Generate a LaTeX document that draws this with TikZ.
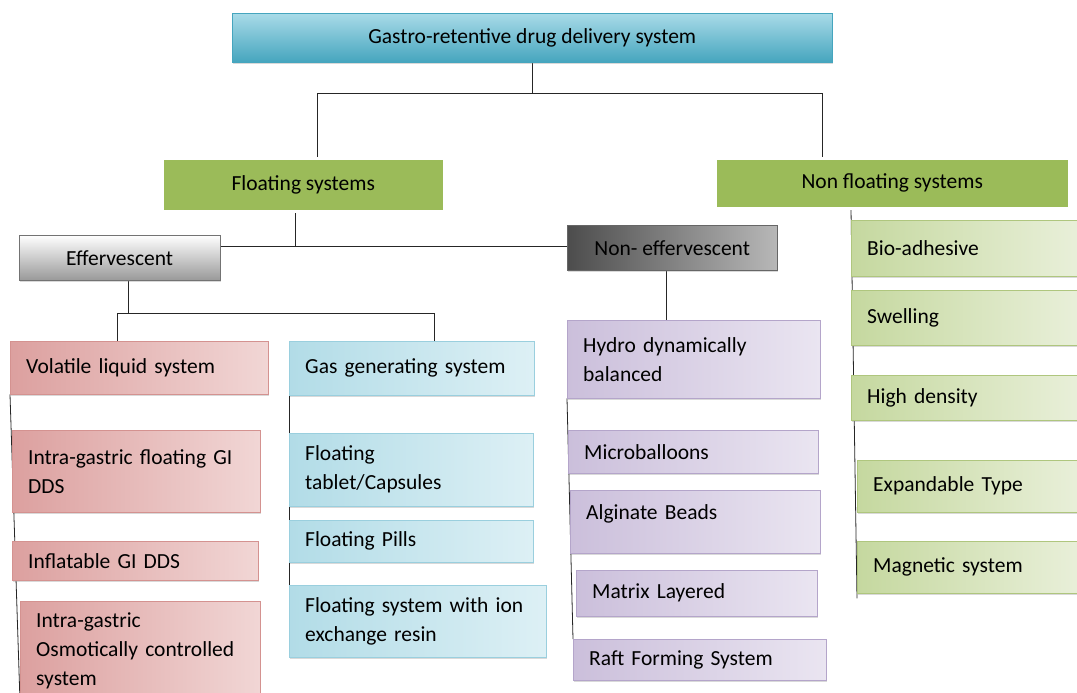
\documentclass[tikz,border=0pt]{standalone}
\usepackage{fontspec}
\setmainfont{Carlito}
\usepackage{tikz}
\usetikzlibrary{positioning, shadows, backgrounds}

\definecolor{tealL}{HTML}{A9DBE8}
\definecolor{tealD}{HTML}{45A5BE}
\definecolor{greenM}{HTML}{9BBB59}
\definecolor{pinkD}{HTML}{DCA09F}
\definecolor{pinkL}{HTML}{F1D6D5}
\definecolor{pinkB}{HTML}{D49290}
\definecolor{blueD}{HTML}{B2DCE7}
\definecolor{blueL}{HTML}{DDF0F5}
\definecolor{blueB}{HTML}{9ACFDE}
\definecolor{purpD}{HTML}{CBBFDB}
\definecolor{purpL}{HTML}{EAE5F1}
\definecolor{purpB}{HTML}{B4A5CA}
\definecolor{leafD}{HTML}{C5D89F}
\definecolor{leafL}{HTML}{EBF1DD}
\definecolor{leafB}{HTML}{AFC67E}

\tikzset{
  box/.style={anchor=north west, inner xsep=16pt, inner ysep=0pt,
    font=\fontsize{21.5}{29}\selectfont, text=black,
    drop shadow={shadow xshift=1.2pt, shadow yshift=-2pt, opacity=0.3}},
  head/.style={box, align=center},
  leaf/.style={box, align=left},
  teal_box/.style={top color=tealL, bottom color=tealD, draw=tealD, thin},
  green_box/.style={fill=greenM, draw=white, line width=2.5pt},
  eff_box/.style={top color=white, bottom color=black!40, draw=black!55, thin},
  noneff_box/.style={left color=black!70, right color=black!28, draw=black!60, thin},
  pink_box/.style={left color=pinkD, right color=pinkL, draw=pinkB, thin},
  blue_box/.style={left color=blueD, right color=blueL, draw=blueB, thin},
  purp_box/.style={left color=purpD, right color=purpL, draw=purpB, thin},
  leaf_box/.style={left color=leafD, right color=leafL, draw=leafB, thin},
  link/.style={draw=black!85, line width=0.8pt}
}

\begin{document}
\begin{tikzpicture}[x=1pt, y=-1pt]
  \useasboundingbox (0,0) rectangle (1077,693);

  %Define nodes
  \node[head, teal_box, minimum width=600pt, minimum height=49pt] (grdds) at (232,13) {Gastro-retentive drug delivery system};
  \node[head, green_box, minimum width=282pt, minimum height=53pt] (float_sys) at (161,157) {Floating systems};
  \node[head, green_box, minimum width=354pt, minimum height=50pt] (non_float) at (714,157) {Non floating systems};
  \node[head, eff_box, minimum width=201pt, minimum height=45pt] (eff) at (19,235) {Effervescent};
  \node[head, noneff_box, minimum width=210pt, minimum height=45pt] (non_eff) at (567,225) {Non- effervescent};

  % effervescent branch
  \node[leaf, pink_box, text width=226pt, minimum height=53pt] (volatile) at (10,341) {Volatile liquid system};
  \node[leaf, pink_box, text width=216pt, minimum height=82pt] (intra_gi) at (12,430) {Intra-gastric floating GI\\DDS};
  \node[leaf, pink_box, text width=214pt, minimum height=39pt] (inflatable) at (12,541) {Inflatable GI DDS};
  \node[leaf, pink_box, text width=208pt, minimum height=100pt] (osmotic) at (20,601) {Intra-gastric\\Osmotically controlled\\system};

  \node[leaf, blue_box, text width=213pt, minimum height=54pt] (gas) at (289,341) {Gas generating system};
  \node[leaf, blue_box, text width=212pt, minimum height=73pt] (tablet) at (289,433) {Floating\\tablet/Capsules};
  \node[leaf, blue_box, text width=212pt, minimum height=42pt] (pills) at (289,520) {Floating Pills};
  \node[leaf, blue_box, text width=225pt, minimum height=72pt] (ion_res) at (289,585) {Floating system with ion\\exchange resin};

  % non-effervescent branch
  \node[leaf, purp_box, text width=221pt, minimum height=78pt] (hydro) at (567,320) {Hydro dynamically\\balanced};
  \node[leaf, purp_box, text width=218pt, minimum height=43pt] (micro) at (568,430) {Microballoons};
  \node[leaf, purp_box, text width=218pt, minimum height=63pt, text depth=20pt] (alginate) at (570,490) {Alginate Beads};
  \node[leaf, purp_box, text width=209pt, minimum height=46pt] (matrix) at (576,570) {Matrix Layered};
  \node[leaf, purp_box, text width=221pt, minimum height=41pt] (raft) at (573,639) {Raft Forming System};

  % non floating branch
  \node[leaf, leaf_box, text width=210pt, minimum height=56pt] (bio) at (851,220) {Bio-adhesive};
  \node[leaf, leaf_box, text width=210pt, minimum height=55pt] (swelling) at (851,290) {Swelling};
  \node[leaf, leaf_box, text width=210pt, minimum height=45pt] (high_dens) at (851,375) {High density};
  \node[leaf, leaf_box, text width=204pt, minimum height=52pt] (expand) at (857,460) {Expandable Type};
  \node[leaf, leaf_box, text width=204pt, minimum height=52pt] (magnetic) at (857,541) {Magnetic system};

  \coordinate (top_bus_l) at (317,93);
  \coordinate (top_bus_r) at (822,93);
  \coordinate (float_bus) at (295,246);
  \coordinate (eff_drop) at (128,313);
  \coordinate (eff_bus_l) at (117,313);
  \coordinate (eff_bus_r) at (434,313);
  \coordinate (noneff_drop) at (666,300);

  % Connect the nodes
  \begin{pgfonlayer}{background}
    \draw[link] (grdds.south) -- (grdds.south |- top_bus_l);
    \draw[link] (float_sys.north -| top_bus_l) -- (top_bus_l) -- (top_bus_r) -- (non_float.north -| top_bus_r);
    \draw[link] (float_sys.south -| float_bus) -- (float_bus);
    \draw[link] (eff.east |- float_bus) -- (non_eff.west |- float_bus);
    \draw[link] (eff.south -| eff_drop) -- (eff_drop);
    \draw[link] (volatile.north -| eff_bus_l) -- (eff_bus_l) -- (eff_bus_r) -- (gas.north -| eff_bus_r);
    \draw[link] (non_eff.south -| noneff_drop) -- (hydro.north -| noneff_drop);
    \draw[link] (volatile.south west) -- (osmotic.south west);
    \draw[link] (gas.south west) -- (ion_res.north west);
    \draw[link] (hydro.south west) -- (raft.north west);
    \draw[link] (non_float.south -| bio.west) -- ([yshift=-5pt]magnetic.south west);
  \end{pgfonlayer}

\end{tikzpicture}
\end{document}
